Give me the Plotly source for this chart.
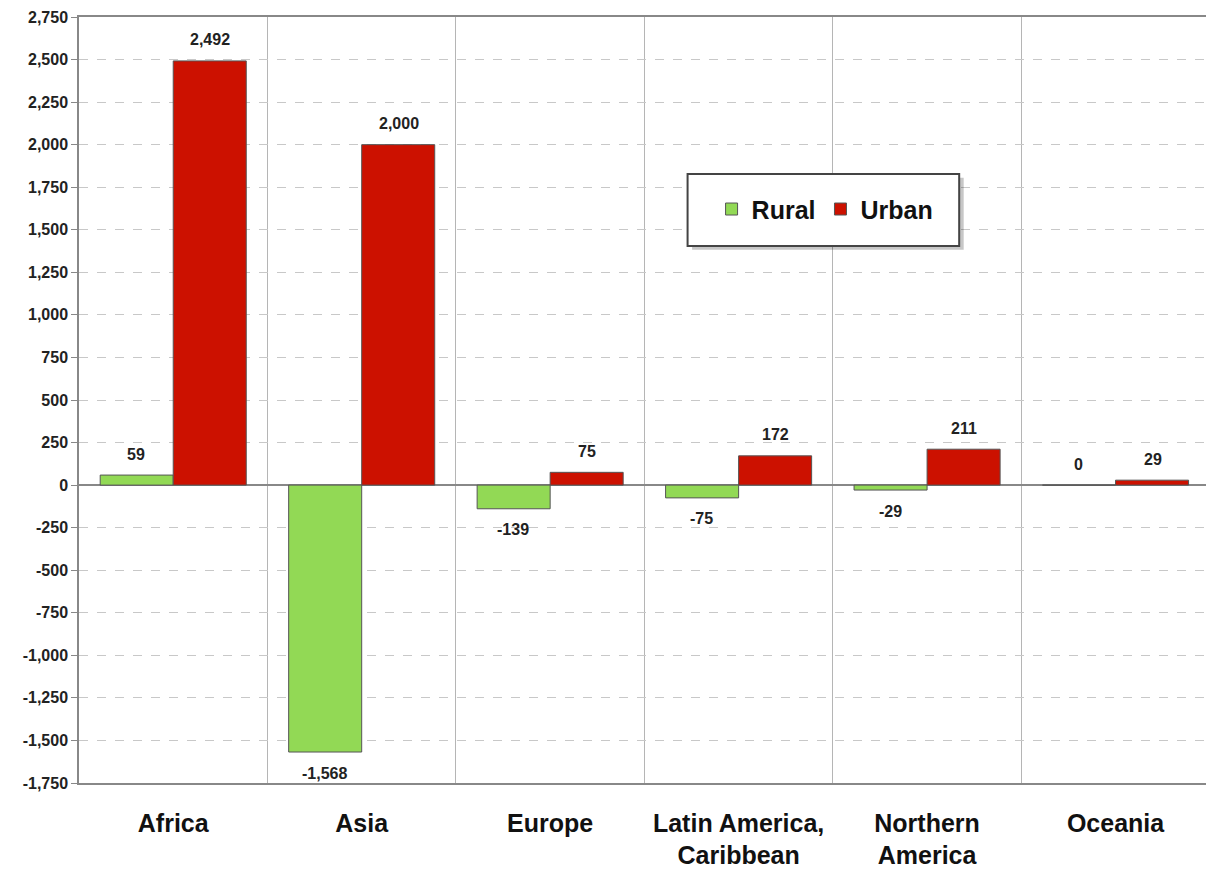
import plotly.graph_objects as go

regions = ["Africa", "Asia", "Europe", "Latin America,<br>Caribbean",
           "Northern<br>America", "Oceania"]
rural = [59, -1568, -139, -75, -29, 0]
urban = [2492, 2000, 75, 172, 211, 29]

y_ticks = list(range(-1750, 2751, 250))
y_tick_text = [f"{v:,}" for v in y_ticks]

FONT = "Liberation Sans, Arial, sans-serif"
BAR_LINE = dict(color="#555555", width=1)
LABEL_FONT = dict(family=FONT, size=16, color="#222222", weight="bold")

fig = go.Figure()
fig.add_trace(go.Bar(name="Rural", x=regions, y=rural,
                     marker=dict(color="#92D955", line=BAR_LINE)))
fig.add_trace(go.Bar(name="Urban", x=regions, y=urban,
                     marker=dict(color="#CC1100", line=BAR_LINE)))

# value labels: above positive bars, below negative ones
BAR_HALF_PX = 37
for series, side in ((rural, -1), (urban, 1)):
    for cat, val in zip(regions, series):
        fig.add_annotation(
            x=cat, y=val, xref="x", yref="y",
            text=f"{val:,}", showarrow=False,
            xshift=side * BAR_HALF_PX,
            yshift=21 if val >= 0 else -21,
            yanchor="middle", font=LABEL_FONT,
        )

# legend frame with a soft drop shadow
fig.add_shape(type="rect", xref="paper", yref="paper",
              x0=0.544, x1=0.785, y0=0.696, y1=0.790,
              fillcolor="rgba(0,0,0,0.22)", line=dict(width=0), layer="above")
fig.add_shape(type="rect", xref="paper", yref="paper",
              x0=0.540, x1=0.781, y0=0.701, y1=0.795,
              fillcolor="white", line=dict(color="#444444", width=2), layer="above")

fig.update_layout(
    width=1206, height=877,
    margin=dict(l=79, r=0, t=17, b=94),
    paper_bgcolor="white", plot_bgcolor="white",
    barmode="group", bargap=0.225, bargroupgap=0,
    showlegend=True,
    legend=dict(
        orientation="h", x=0.662, y=0.749, xanchor="center", yanchor="middle",
        bgcolor="rgba(0,0,0,0)", borderwidth=0,
        font=dict(family=FONT, size=25, color="#111111", weight="bold"),
    ),
    xaxis=dict(
        range=[-0.5, 5.48],
        tickson="boundaries", ticks="", showgrid=True,
        gridcolor="#b5b5b5", gridwidth=1,
        showline=True, linecolor="#888888", linewidth=1.5, mirror=True,
        tickfont=dict(family=FONT, size=25, color="#111111", weight="bold"),
        ticklabelstandoff=17,
    ),
    yaxis=dict(
        range=[-1750, 2750], tickvals=y_ticks, ticktext=y_tick_text,
        ticks="outside", ticklen=6, tickcolor="#888888",
        showgrid=True, gridcolor="#c8c8c8", griddash="dash", gridwidth=1,
        zeroline=True, zerolinecolor="#888888", zerolinewidth=1.5,
        showline=True, linecolor="#888888", linewidth=1.5,
        tickfont=dict(family=FONT, size=16, color="#222222", weight="bold"),
    ),
)

fig.write_html("out.html")
